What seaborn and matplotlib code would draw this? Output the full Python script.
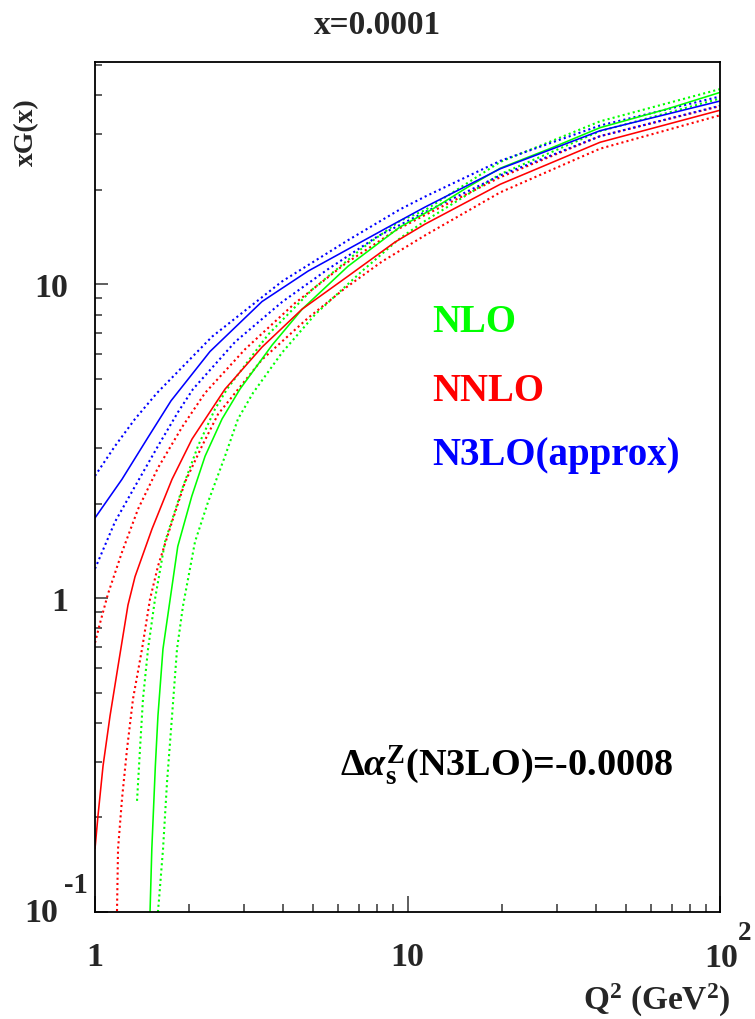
import numpy as np
import pandas as pd
import matplotlib
matplotlib.use("Agg")
import matplotlib.pyplot as plt
import seaborn as sns
from matplotlib.ticker import LogLocator, NullFormatter, FixedLocator

# ---------------- data ----------------
# NLO (green)
q_nlo_c = [1.50, 1.52, 1.56, 1.59, 1.65, 1.74, 1.84, 2.04, 2.25, 2.55, 2.91, 3.69, 4.60, 6.45,
           9.46, 12.1, 15.5, 19.8, 28.5, 41.3, 67.5, 100]
g_nlo_c = [0.100, 0.159, 0.292, 0.421, 0.688, 0.993, 1.46, 2.11, 2.83, 3.72, 4.63, 6.4, 8.32, 11.4,
           15.2, 17.4, 20.3, 23.4, 27.0, 31.5, 36.1, 40.8]
q_nlo_u = [1.363, 1.393, 1.424, 1.478, 1.556, 1.675, 1.898, 2.136, 2.421, 2.645, 3.578, 4.949,
           7.152, 9.46, 11.38, 19.8, 41.3, 100]
g_nlo_u = [0.226, 0.330, 0.477, 0.688, 0.993, 1.51, 2.22, 3.05, 4.00, 4.63, 6.9, 9.6,
           13.0, 15.9, 17.2, 24.5, 33.0, 41.8]
q_nlo_l = [1.59, 1.603, 1.651, 1.700, 1.764, 1.830, 1.912, 2.089, 2.299, 2.606, 2.868, 3.203,
           3.967, 5.058, 7.152, 9.46, 11.38, 19.8, 41.3, 100]
g_nlo_l = [0.100, 0.110, 0.159, 0.259, 0.421, 0.688, 0.943, 1.51, 2.02, 2.83, 3.72, 4.5,
           6.05, 8.0, 11.0, 14.0, 15.9, 22.4, 30.7, 39.0]

# NNLO (red)
q_nnlo_c = [1.0, 1.022, 1.061, 1.117, 1.185, 1.275, 1.343, 1.522, 1.764, 2.044, 2.606, 3.423,
            4.597, 6.451, 9.120, 11.38, 19.8, 41.3, 100]
g_nnlo_c = [0.159, 0.202, 0.292, 0.421, 0.607, 0.95, 1.17, 1.66, 2.39, 3.21, 4.63, 6.3,
            8.32, 10.60, 13.61, 15.53, 20.8, 28.3, 35.8]
q_nnlo_u = [1.0, 1.037, 1.076, 1.100, 1.220, 1.373, 1.591, 1.898, 2.249, 3.020, 4.365, 6.310,
            9.120, 11.38, 19.8, 41.3, 100]
g_nnlo_u = [0.72, 0.83, 0.95, 1.03, 1.40, 1.92, 2.60, 3.50, 4.50, 6.2, 8.7, 11.6,
            14.8, 16.6, 21.9, 29.6, 36.9]
q_nnlo_l = [1.176, 1.185, 1.220, 1.266, 1.323, 1.414, 1.500, 1.591, 1.764, 1.941, 2.200, 2.475,
            3.423, 4.804, 6.310, 8.285, 11.38, 19.8, 41.3, 100]
g_nnlo_l = [0.1007, 0.159, 0.229, 0.330, 0.477, 0.688, 0.993, 1.265, 1.75, 2.34, 3.05, 3.85,
            5.75, 7.80, 9.70, 11.8, 14.3, 19.6, 27.0, 34.5]

# N3LO approx (blue)
q_n3lo_c = [1.0, 1.22, 1.478, 1.751, 2.333, 3.423, 4.804, 8.472, 11.38, 19.8, 41.3, 100]
g_n3lo_c = [1.80, 2.39, 3.25, 4.25, 6.1, 8.8, 11.0, 15.0, 17.6, 23.3, 30.8, 38.3]
q_n3lo_u = [1.0, 1.159, 1.343, 1.579, 2.368, 3.967, 6.451, 9.46, 11.38, 19.8, 41.3, 100]
g_n3lo_u = [2.45, 3.05, 3.72, 4.5, 6.8, 10.2, 13.8, 17.3, 19.0, 24.7, 32.0, 39.6]
q_n3lo_l = [1.0, 1.159, 1.343, 1.591, 1.843, 2.059, 2.805, 3.967, 5.567, 8.045, 11.38, 19.8, 41.3, 100]
g_n3lo_l = [1.24, 1.75, 2.27, 3.05, 3.91, 4.63, 6.54, 8.77, 11.16, 14.22, 16.96, 22.2, 29.6, 37.0]

orders = ["NLO", "NNLO", "N3LO(approx)"]
colors = {"NLO": "#00ff00", "NNLO": "#ff0000", "N3LO(approx)": "#0000ff"}

x_ticks = [1, 10, 100]
x_ticklabels = ["1", "10", ""]
y_ticks = [0.1, 1, 10]
y_ticklabels = ["", "1", "10"]

title = "x=0.0001"
xlabel = r"Q$^{2}$ (GeV$^{2}$)"
ylabel = "xG(x)"
annotation = r"$\Delta\alpha_{\mathrm{s}}^{\mathrm{Z}}$(N3LO)=-0.0008"

# ---------------- build table ----------------
curves = [
    ("NLO", "central", q_nlo_c, g_nlo_c), ("NLO", "upper", q_nlo_u, g_nlo_u), ("NLO", "lower", q_nlo_l, g_nlo_l),
    ("NNLO", "central", q_nnlo_c, g_nnlo_c), ("NNLO", "upper", q_nnlo_u, g_nnlo_u), ("NNLO", "lower", q_nnlo_l, g_nnlo_l),
    ("N3LO(approx)", "central", q_n3lo_c, g_n3lo_c), ("N3LO(approx)", "upper", q_n3lo_u, g_n3lo_u),
    ("N3LO(approx)", "lower", q_n3lo_l, g_n3lo_l),
]
frames = []
for order, band, q, g in curves:
    frames.append(pd.DataFrame({"Q2": q, "xG": g, "order": order, "band": band}))
df = pd.concat(frames, ignore_index=True)

# ---------------- style ----------------
sns.set_theme(style="ticks")
plt.rcParams["font.family"] = ["Liberation Serif", "DejaVu Serif"]
plt.rcParams["font.weight"] = "bold"
plt.rcParams["mathtext.fontset"] = "custom"
plt.rcParams["mathtext.rm"] = "Liberation Serif:bold"
plt.rcParams["mathtext.bf"] = "Liberation Serif:bold"
plt.rcParams["mathtext.it"] = "Liberation Serif:italic"

W, H = 755, 1020
PX = 0.72  # points per pixel at dpi 100
fig = plt.figure(figsize=(W / 100, H / 100), dpi=100)
fig.patch.set_facecolor("white")
ax = fig.add_axes([95 / W, 1 - 913 / H, 625 / W, 850 / H])
ax.set_facecolor("white")

central = df[df["band"] == "central"]
bands = df[df["band"] != "central"]

sns.lineplot(data=bands, x="Q2", y="xG", hue="order", style="band", hue_order=orders,
             palette=colors, dashes={"upper": (1, 1.5), "lower": (1, 1.5)},
             estimator=None, sort=False, legend=False, linewidth=1.5, ax=ax)
sns.lineplot(data=central, x="Q2", y="xG", hue="order", hue_order=orders, palette=colors,
             estimator=None, sort=False, legend=False, linewidth=1.15, ax=ax)

ax.set_xscale("log")
ax.set_yscale("log")
ax.set_xlim(1, 100)
ax.set_ylim(0.1, 51)

ax.xaxis.set_major_locator(FixedLocator(x_ticks))
ax.set_xticklabels(x_ticklabels)
ax.yaxis.set_major_locator(FixedLocator(y_ticks))
ax.set_yticklabels(y_ticklabels)
ax.xaxis.set_minor_locator(LogLocator(base=10, subs=np.arange(2, 10)))
ax.yaxis.set_minor_locator(LogLocator(base=10, subs=np.arange(2, 10)))
ax.xaxis.set_minor_formatter(NullFormatter())
ax.yaxis.set_minor_formatter(NullFormatter())

TICKFS = 24.5
ax.tick_params(which="both", direction="in", top=False, right=False, color="#333333", width=1.1)
ax.tick_params(axis="x", which="major", length=11.5, pad=21, labelsize=TICKFS)
ax.tick_params(axis="x", which="minor", length=5.8)
ax.tick_params(axis="y", which="major", length=9.4, pad=19, labelsize=TICKFS)
ax.tick_params(axis="y", which="minor", length=4.7)
for lab in ax.get_xticklabels() + ax.get_yticklabels():
    lab.set_fontweight("bold")

# ROOT-style exponent labels (10^-1 on y, 10^2 on x)
ax.annotate("10", xy=(0, y_ticks[0]), xycoords=("axes fraction", "data"),
            xytext=(-37 * PX, 0), textcoords="offset points", ha="right", va="center",
            fontsize=TICKFS, fontweight="bold", annotation_clip=False)
ax.annotate("-1", xy=(0, y_ticks[0]), xycoords=("axes fraction", "data"),
            xytext=(-7 * PX, 20 * PX), textcoords="offset points", ha="right", va="baseline",
            fontsize=TICKFS * 0.85, fontweight="bold", annotation_clip=False)
ax.annotate("10", xy=(x_ticks[2], 0), xycoords=("data", "axes fraction"),
            xytext=(1 * PX, -30 * PX), textcoords="offset points", ha="center", va="top",
            fontsize=TICKFS, fontweight="bold", annotation_clip=False)
ax.annotate("2", xy=(x_ticks[2], 0), xycoords=("data", "axes fraction"),
            xytext=(18 * PX, 27 * PX * -1), textcoords="offset points", ha="left", va="baseline",
            fontsize=TICKFS * 0.8, fontweight="bold", annotation_clip=False)

for sp in ax.spines.values():
    sp.set_linewidth(1.3)
    sp.set_color("black")

ax.set_xlabel("")
ax.set_ylabel("")
ax.grid(False)

# ---------------- texts ----------------
fig.text(0.5, 1 - 34 / H, title, ha="center", va="baseline", fontsize=24, fontweight="bold")
fig.text(27 / W, 1 - 98 / H, ylabel, rotation=90, ha="center", va="top", fontsize=20, fontweight="bold")
fig.text(583 / W, 1 - 1010 / H, xlabel, ha="left", va="baseline", fontsize=24, fontweight="bold")

legend_baselines = [332, 401, 465]
for name, yb in zip(orders, legend_baselines):
    fig.text(432 / W, 1 - yb / H, name, color=colors[name], ha="left", va="baseline",
             fontsize=28, fontweight="bold")

fig.text(340 / W, 1 - 777 / H, annotation, color="black", ha="left", va="baseline",
         fontsize=27.5, fontweight="bold")

fig.savefig("out.png", dpi=100, facecolor="white")
